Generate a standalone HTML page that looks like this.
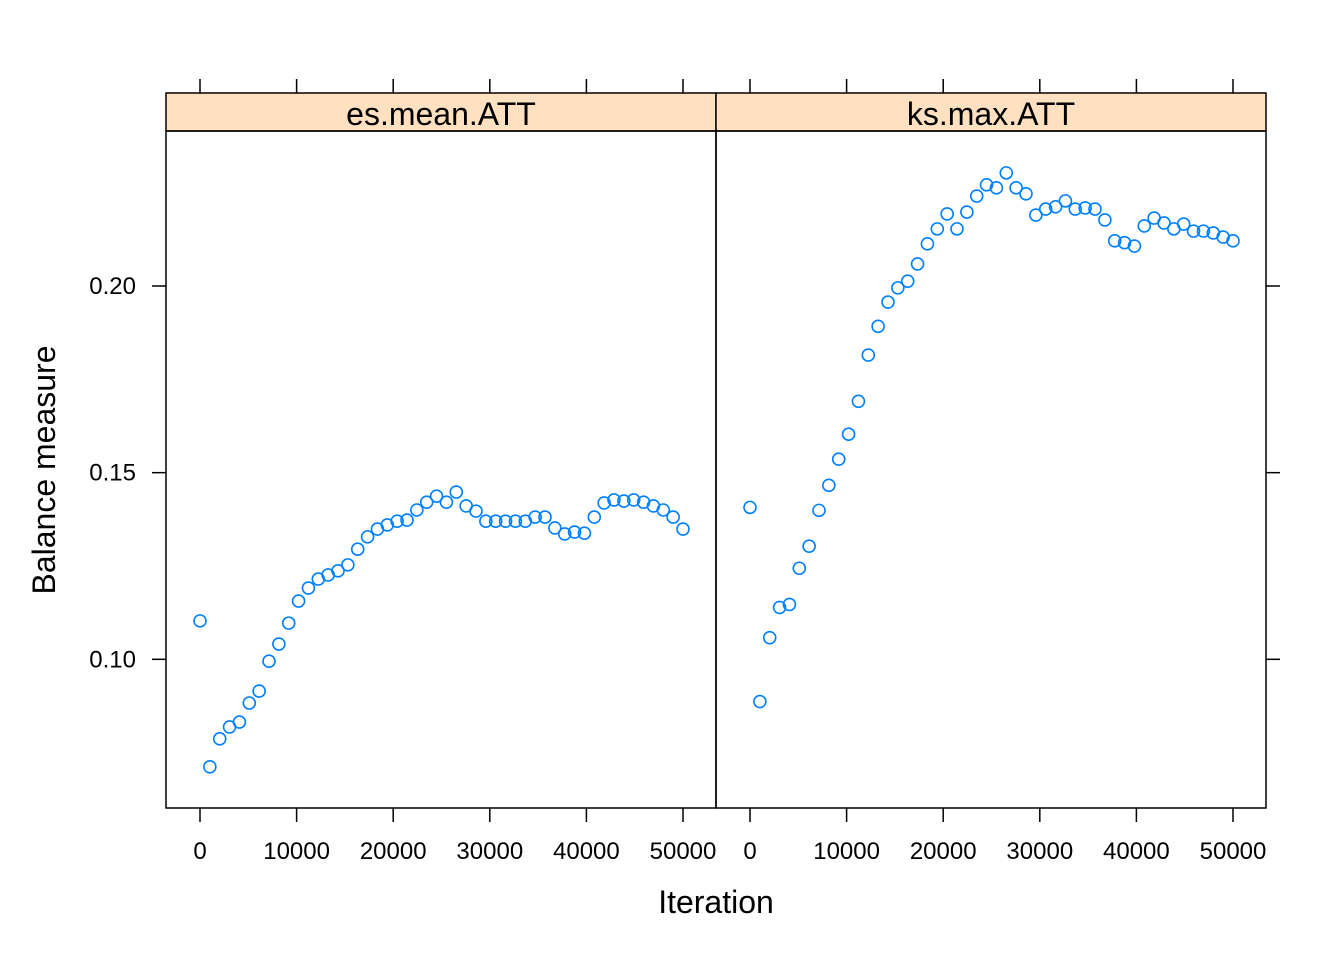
<!DOCTYPE html>
<html><head><meta charset="utf-8"><style>
body{margin:0;background:#fff}
svg{display:block;font-family:"Liberation Sans",Arial,sans-serif}
</style></head><body>
<svg id="chart" width="1344" height="960"></svg>
<script>
const iterations=[0,1020,2041,3061,4082,5102,6122,7143,8163,9184,10204,11224,12245,13265,14286,15306,16327,17347,18367,19388,20408,21429,22449,23469,24490,25510,26531,27551,28571,29592,30612,31633,32653,33673,34694,35714,36735,37755,38776,39796,40816,41837,42857,43878,44898,45918,46939,47959,48980,50000];
const esMean=[0.1103,0.0712,0.0787,0.0819,0.0832,0.0883,0.0915,0.0995,0.1041,0.1097,0.1156,0.1191,0.1215,0.1226,0.1237,0.1253,0.1295,0.1328,0.1349,0.1360,0.1370,0.1373,0.1400,0.1421,0.1437,0.1421,0.1448,0.1411,0.1397,0.1370,0.1370,0.1370,0.1370,0.1370,0.1381,0.1381,0.1352,0.1336,0.1341,0.1338,0.1381,0.1419,0.1427,0.1424,0.1427,0.1421,0.1411,0.1400,0.1381,0.1349];
const ksMax=[0.1407,0.0887,0.1058,0.1139,0.1147,0.1244,0.1303,0.1399,0.1466,0.1536,0.1603,0.1691,0.1815,0.1892,0.1957,0.1995,0.2013,0.2059,0.2113,0.2153,0.2193,0.2153,0.2198,0.2241,0.2271,0.2263,0.2303,0.2263,0.2247,0.2190,0.2206,0.2212,0.2228,0.2206,0.2209,0.2206,0.2177,0.2121,0.2116,0.2107,0.2161,0.2182,0.2169,0.2153,0.2166,0.2147,0.2147,0.2142,0.2131,0.2121];
const panels=["es.mean.ATT","ks.max.ATT"];
const xTicks=[0,10000,20000,30000,40000,50000];
const yTicks=[0.10,0.15,0.20];

const svg=document.getElementById('chart');
const NS="http://www.w3.org/2000/svg";
function mk(tag,attrs,parent){const e=document.createElementNS(NS,tag);for(const k in attrs)e.setAttribute(k,attrs[k]);(parent||svg).appendChild(e);return e;}
const plotTop=131,plotBot=808,stripTop=93;
function yS(v){return 286+(0.20-v)*3733.3;}
const panelX=[166,716];
const series=[esMean,ksMax];
panels.forEach((name,p)=>{
  const x0=panelX[p];
  const xS=v=>x0+34+v*(483/50000);
  const g=mk('g',{});
  
  
  const st=mk('rect',{x:x0,y:stripTop,width:550,height:38,fill:'#ffe0c0',stroke:'#000','stroke-width':1.5},g);
  
  
  const t=mk('text',{x:x0+275,y:125,'text-anchor':'middle','font-size':32},g);t.textContent=name;
  
  
  const fr=mk('rect',{x:x0,y:plotTop,width:550,height:plotBot-plotTop,fill:'none',stroke:'#000','stroke-width':1.5},g);
  
  
  xTicks.forEach(v=>{
    const x=xS(v);
    mk('line',{x1:x,x2:x,y1:plotBot,y2:plotBot+14,stroke:'#000','stroke-width':1.5},g);
    mk('line',{x1:x,x2:x,y1:stripTop,y2:stripTop-14,stroke:'#000','stroke-width':1.5},g);
    const l=mk('text',{x:x,y:859,'text-anchor':'middle','font-size':24},g);l.textContent=v;
    
    
  });
  series[p].forEach((v,i)=>{
    const c=mk('circle',{cx:xS(iterations[i]),cy:yS(v),r:6,fill:'none',stroke:'#0080ff','stroke-width':1.6},g);
    
    
  });
});
yTicks.forEach(v=>{
  const y=yS(v);
  mk('line',{x1:152,x2:166,y1:y,y2:y,stroke:'#000','stroke-width':1.5});
  mk('line',{x1:1266,x2:1280,y1:y,y2:y,stroke:'#000','stroke-width':1.5});
  const l=mk('text',{x:136,y:y+8,'text-anchor':'end','font-size':24});l.textContent=v.toFixed(2);
  
  
});
const xt=mk('text',{x:716,y:913,'text-anchor':'middle','font-size':32});xt.textContent='Iteration';


const yt=mk('text',{x:0,y:0,'text-anchor':'middle','font-size':32,transform:'translate(55,470) rotate(-90)'});yt.textContent='Balance measure';


</script>
</body></html>
